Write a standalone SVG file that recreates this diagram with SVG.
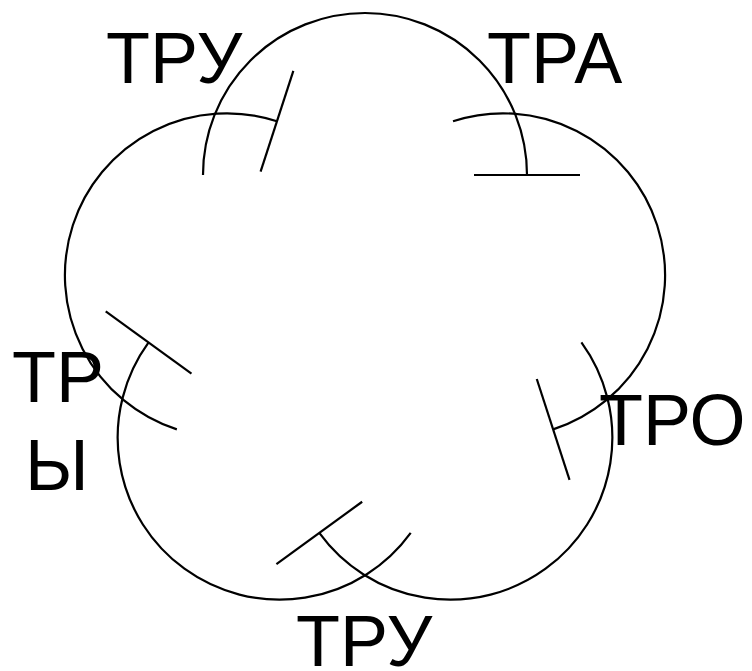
<svg xmlns="http://www.w3.org/2000/svg" width="752" height="671" viewBox="0 0 752 671">
  <style>
    .arc { fill: none; stroke: #000; stroke-width: 2.2; }
    .bar { fill: none; stroke: #000; stroke-width: 2.2; }
  </style>
  <rect width="752" height="671" fill="#fff"/>
  <g id="connectors">
    <path class="arc" d="M203,175 A162,162 0 0 1 365,13 A162,162 0 0 1 527,175"/>
    <line class="bar" x1="474" y1="175" x2="580" y2="175"/>
    <path class="arc" d="M453.03,121.26 A162,162 0 0 1 657.16,225.27 A162,162 0 0 1 553.15,429.40"/>
    <line class="bar" x1="536.77" y1="378.99" x2="569.53" y2="479.81"/>
    <path class="arc" d="M581.41,342.45 A162,162 0 0 1 545.57,568.73 A162,162 0 0 1 319.29,532.89"/>
    <line class="bar" x1="362.17" y1="501.74" x2="276.41" y2="564.04"/>
    <path class="arc" d="M410.71,532.89 A162,162 0 0 1 184.43,568.73 A162,162 0 0 1 148.59,342.45"/>
    <line class="bar" x1="191.47" y1="373.60" x2="105.71" y2="311.30"/>
    <path class="arc" d="M176.85,429.40 A162,162 0 0 1 72.84,225.27 A162,162 0 0 1 276.97,121.26"/>
    <line class="bar" x1="260.59" y1="171.67" x2="293.35" y2="70.85"/>
  </g>
  <g id="labels" font-family="Liberation Sans, Arial, sans-serif" font-size="72" fill="#000">
    <g id="node-tru-top"><text x="106" y="83">ТРУ</text></g>
    <g id="node-tra"><text x="487" y="83">ТРА</text></g>
    <g id="node-tro"><text x="599" y="445">ТРО</text></g>
    <g id="node-tru-bottom"><text x="296" y="666">ТРУ</text></g>
    <g id="node-try"><text x="12" y="402">ТР</text><text x="25" y="490">Ы</text></g>
  </g>
</svg>
